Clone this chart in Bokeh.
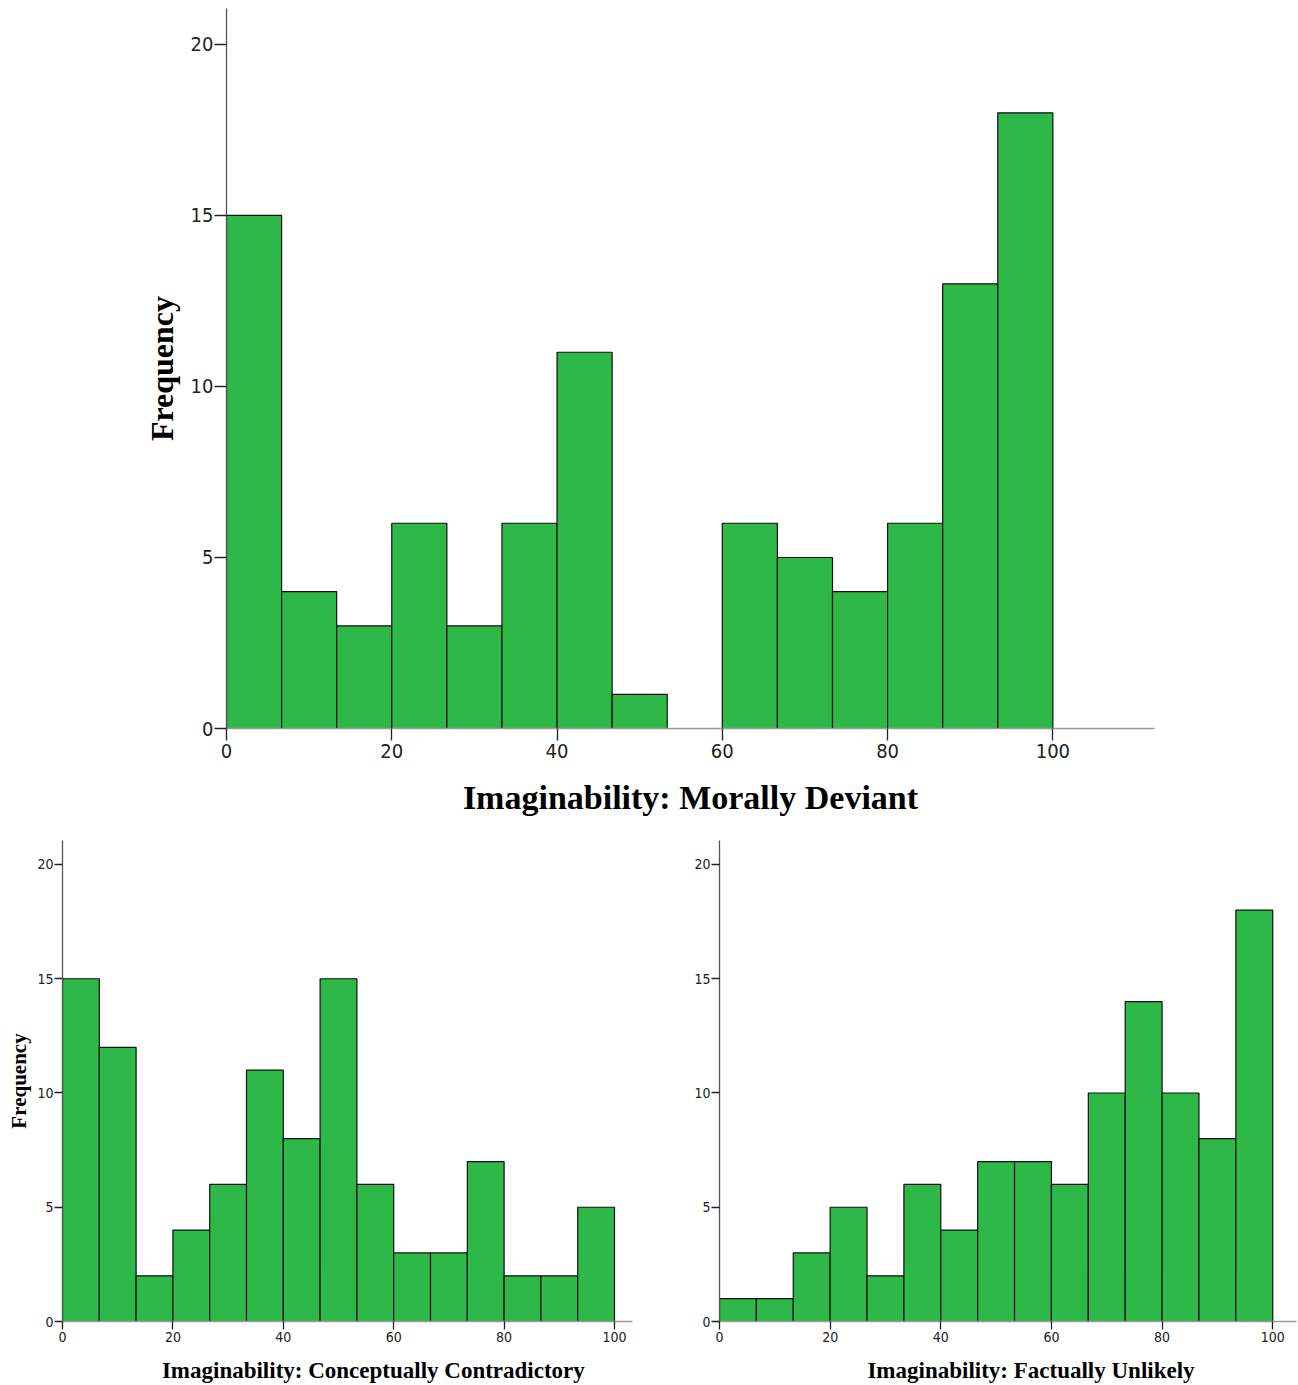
import numpy as np
from bokeh.plotting import figure
from bokeh.models import Range1d, FixedTicker, ColumnDataSource
from bokeh.layouts import column, row
from bokeh.embed import file_html
from bokeh.resources import INLINE

# ---- data ----
bin_edges = list(np.linspace(0, 100, 16))
counts_moral = [15, 4, 3, 6, 3, 6, 11, 1, 0, 6, 5, 4, 6, 13, 18]
counts_concept = [15, 12, 2, 4, 6, 11, 8, 15, 6, 3, 3, 7, 2, 2, 5]
counts_fact = [1, 1, 3, 5, 2, 6, 4, 7, 7, 6, 10, 14, 10, 8, 18]
x_ticks = [0, 20, 40, 60, 80, 100]
y_ticks = [0, 5, 10, 15, 20]
title_moral = "Imaginability: Morally Deviant"
title_concept = "Imaginability: Conceptually Contradictory"
title_fact = "Imaginability: Factually Unlikely"
y_title = "Frequency"

GREEN = "#2eb848"
TICK_FONT = "'Liberation Sans Narrow', 'DejaVu Sans Condensed', sans-serif"
SERIF = "Liberation Serif"
NBSP = "\u00a0"


def make_fig(counts, width, height, bl, br, bt, bb, xmax, ymax, tick_size, tick_len,
             x_standoff, ylabel=None, ylab_size="32px", ylab_standoff=12):
    p = figure(width=width, height=height, output_backend="svg", toolbar_location=None,
               x_range=Range1d(0, xmax), y_range=Range1d(0, ymax),
               min_border_left=bl, min_border_right=br, min_border_top=bt,
               min_border_bottom=bb)
    p.outline_line_color = None
    p.grid.visible = False
    p.background_fill_color = "white"
    p.border_fill_color = "white"

    lefts = [bin_edges[i] for i in range(15) if counts[i] > 0]
    rights = [bin_edges[i + 1] for i in range(15) if counts[i] > 0]
    tops = [c for c in counts if c > 0]
    src = ColumnDataSource(dict(left=lefts, right=rights, top=tops, bottom=[0] * len(tops)))
    p.quad(left="left", right="right", top="top", bottom="bottom", source=src,
           fill_color=GREEN, line_color="#111111", line_width=1.2)

    p.xaxis.ticker = FixedTicker(ticks=x_ticks)
    p.yaxis.ticker = FixedTicker(ticks=y_ticks)
    for ax in (p.xaxis, p.yaxis):
        ax.minor_tick_line_color = None
        ax.major_tick_in = 0
        ax.major_tick_out = tick_len
        ax.major_tick_line_color = "#222222"
        ax.major_tick_line_width = 1.3
        ax.major_label_text_font = TICK_FONT
        ax.major_label_text_font_size = tick_size
        ax.major_label_text_color = "#222222"
    p.xaxis.axis_line_color = "#9a9a9a"
    p.yaxis.axis_line_color = "#555555"
    p.xaxis.axis_line_width = 1.3
    p.yaxis.axis_line_width = 1.3
    p.xaxis.major_label_standoff = x_standoff
    p.yaxis.major_label_standoff = 1
    if ylabel:
        p.yaxis.axis_label = ylabel
        p.yaxis.axis_label_text_font = SERIF
        p.yaxis.axis_label_text_font_style = "bold"
        p.yaxis.axis_label_text_font_size = ylab_size
        p.yaxis.axis_label_text_color = "black"
        p.yaxis.axis_label_standoff = ylab_standoff
    return p


def set_xlabel(p, text, size, standoff):
    p.xaxis.axis_label = text
    p.xaxis.axis_label_text_font = SERIF
    p.xaxis.axis_label_text_font_style = "bold"
    p.xaxis.axis_label_text_font_size = size
    p.xaxis.axis_label_text_color = "black"
    p.xaxis.axis_label_standoff = standoff


# top chart
top = make_fig(counts_moral, 1298, 840, 226, 144, 8, 112, 112.3, 21.05, "20px", 12, 3,
               ylabel=y_title, ylab_size="32px", ylab_standoff=8)
set_xlabel(top, title_moral, "34px", 18)

# bottom-left (label centred like the reference: shifted right with leading spaces)
bl = make_fig(counts_concept, 680, 545, 62, 48, 0, 63, 103.26, 21.05, "14px", 8, 2,
              ylabel=y_title, ylab_size="21px", ylab_standoff=3)
set_xlabel(bl, NBSP * 9 + title_concept, "23px", 13)

# bottom-right
br = make_fig(counts_fact, 618, 545, 39, 2, 0, 63, 104.3, 21.05, "14px", 8, 2)
set_xlabel(br, NBSP * 8 + title_fact, "23px", 13)

layout = column(top, row(bl, br))
open("out.html", "w").write(file_html(layout, INLINE))
